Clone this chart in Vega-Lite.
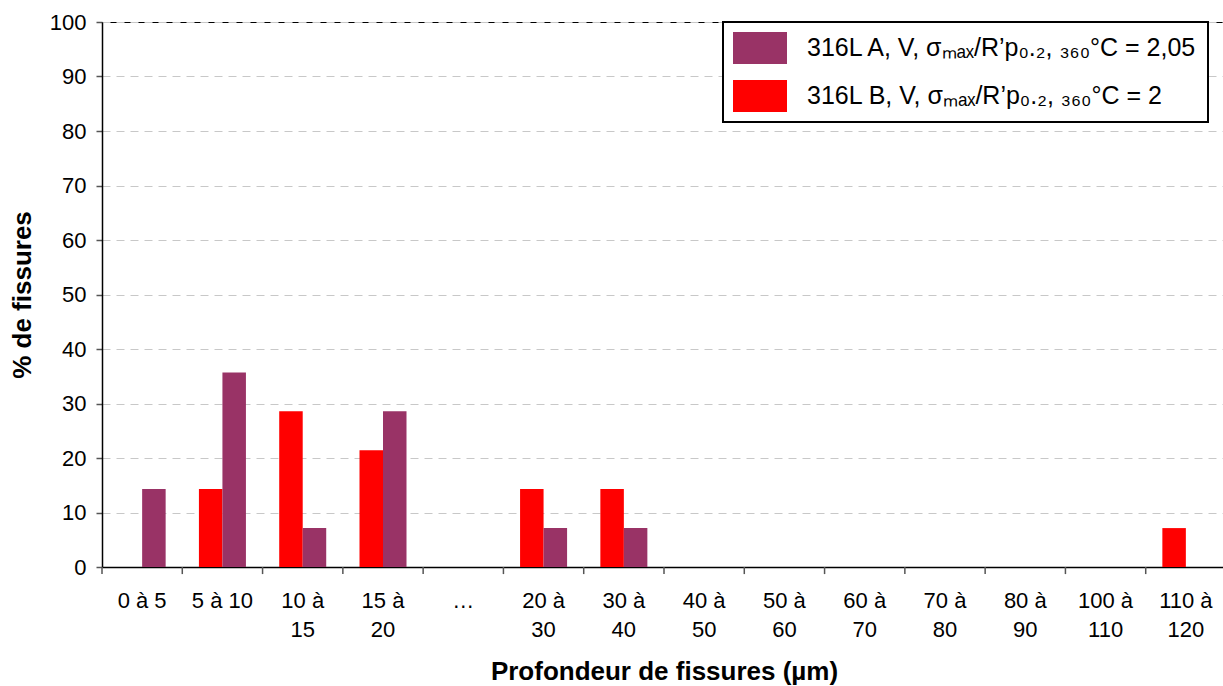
{
  "$schema": "https://vega.github.io/schema/vega-lite/v6.json",
  "autosize": {"type": "none"},
  "padding": {"left": 102, "top": 22, "right": 0, "bottom": 119},
  "width": 1124,
  "height": 545,
  "background": "white",
  "config": {
    "font": "Liberation Sans",
    "view": {"stroke": "black", "strokeWidth": 1},
    "legend": {"strokeWidth": 2}
  },
  "datasets": {
    "barres": [
      {"classe": "0 à 5", "serie": "A", "pct": 14.29},
      {"classe": "5 à 10", "serie": "B", "pct": 14.29},
      {"classe": "5 à 10", "serie": "A", "pct": 35.71},
      {"classe": "10 à 15", "serie": "B", "pct": 28.57},
      {"classe": "10 à 15", "serie": "A", "pct": 7.14},
      {"classe": "15 à 20", "serie": "B", "pct": 21.43},
      {"classe": "15 à 20", "serie": "A", "pct": 28.57},
      {"classe": "20 à 30", "serie": "B", "pct": 14.29},
      {"classe": "20 à 30", "serie": "A", "pct": 7.14},
      {"classe": "30 à 40", "serie": "B", "pct": 14.29},
      {"classe": "30 à 40", "serie": "A", "pct": 7.14},
      {"classe": "110 à 120", "serie": "B", "pct": 7.14}
    ],
    "classes": [
      {"classe": "0 à 5"}, {"classe": "5 à 10"}, {"classe": "10 à 15"}, {"classe": "15 à 20"},
      {"classe": "…"}, {"classe": "20 à 30"}, {"classe": "30 à 40"}, {"classe": "40 à 50"},
      {"classe": "50 à 60"}, {"classe": "60 à 70"}, {"classe": "70 à 80"}, {"classe": "80 à 90"},
      {"classe": "100 à 110"}, {"classe": "110 à 120"}
    ]
  },
  "encoding": {
    "x": {
      "field": "classe",
      "type": "nominal",
      "sort": null,
      "scale": {
        "domain": ["0 à 5", "5 à 10", "10 à 15", "15 à 20", "…", "20 à 30", "30 à 40", "40 à 50", "50 à 60", "60 à 70", "70 à 80", "80 à 90", "100 à 110", "110 à 120"],
        "paddingInner": 0,
        "paddingOuter": 0
      },
      "axis": {
        "title": "Profondeur de fissures (µm)",
        "titleFontSize": 26,
        "titleFontWeight": "bold",
        "titleColor": "black",
        "titlePadding": 18,
        "labelAngle": 0,
        "labelExpr": "length(datum.value) > 6 ? [slice(datum.value, 0, indexof(datum.value, ' à ') + 2), slice(datum.value, indexof(datum.value, ' à ') + 3)] : datum.value",
        "labelFontSize": 22,
        "labelColor": "black",
        "labelPadding": 23,
        "labelLineHeight": 29,
        "labelBaseline": "top",
        "labelOverlap": false,
        "labelBound": false,
        "labelLimit": 0,
        "ticks": false,
        "domainColor": "black",
        "domainWidth": 1.5,
        "grid": false
      }
    }
  },
  "layer": [
    {
      "data": {"name": "classes"},
      "mark": {"type": "rule", "color": "#555555", "strokeWidth": 1.5},
      "encoding": {
        "x": {"field": "classe", "type": "nominal", "sort": null, "bandPosition": 0},
        "y": {"datum": 0, "type": "quantitative"},
        "y2": {"datum": -1.3}
      }
    },
    {
      "data": {"name": "barres"},
      "mark": {"type": "bar"},
      "encoding": {
        "xOffset": {"field": "serie", "type": "nominal", "scale": {"domain": ["B", "A"], "paddingInner": 0, "paddingOuter": 0.708}},
        "y": {
          "field": "pct",
          "type": "quantitative",
          "scale": {"domain": [0, 100]},
          "axis": {
            "title": "% de fissures",
            "titleFontSize": 26,
            "titleFontWeight": "bold",
            "titleColor": "black",
            "titlePadding": 14,
            "values": [0, 10, 20, 30, 40, 50, 60, 70, 80, 90, 100],
            "labelFontSize": 22,
            "labelColor": "black",
            "labelPadding": 10,
            "tickSize": 6,
            "tickColor": "#555555",
            "tickWidth": 1.5,
            "domainColor": "black",
            "domainWidth": 1.5,
            "grid": true,
            "gridColor": "#c8c8c8",
            "gridDash": [8, 6],
            "gridWidth": 1
          }
        },
        "color": {
          "field": "serie",
          "type": "nominal",
          "scale": {"domain": ["A", "B"], "range": ["#993366", "#FF0000"]},
          "legend": {
            "title": null,
            "orient": "none",
            "legendX": 621,
            "legendY": 0,
            "symbolType": "M-1,-1H2.375V1H-1Z",
            "symbolSize": 1024,
            "symbolStrokeWidth": 0,
            "symbolOpacity": 1,
            "labelFontSize": 25,
            "labelColor": "black",
            "labelOffset": 42,
            "labelLimit": 0,
            "rowPadding": 16,
            "padding": 10,
            "strokeColor": "black",
            "fillColor": "white",
            "labelExpr": "datum.value === 'A' ? '316L A, V, σₘₐₓ/R’p₀.₂, ₃₆₀°C = 2,05' : '316L B, V, σₘₐₓ/R’p₀.₂, ₃₆₀°C = 2'"
          }
        }
      }
    }
  ]
}
